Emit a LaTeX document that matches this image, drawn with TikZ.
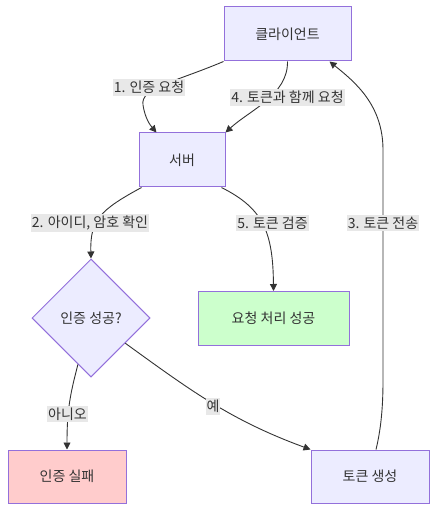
\documentclass[tikz,border=0pt]{standalone}
\usepackage{fontspec}
\setmainfont{Noto Sans CJK KR}
\usetikzlibrary{shapes.geometric,arrows.meta,calc}
\definecolor{boxfill}{HTML}{ECECFF}
\definecolor{boxline}{HTML}{9370DB}
\definecolor{okfill}{HTML}{CCFFCC}
\definecolor{badfill}{HTML}{FFCCCC}
\definecolor{txt}{HTML}{333333}
\definecolor{lblfill}{HTML}{E8E8E8}
\tikzset{
  box/.style={draw=boxline, fill=boxfill, line width=1pt, text=txt, inner sep=0pt, font=\fontsize{14}{16}\selectfont},
  decbox/.style={box, diamond, aspect=1, minimum width=118pt, minimum height=118pt},
  conn/.style={draw=txt, line width=0.9pt, -{Triangle[length=7pt,width=7pt]}},
  lbl/.style={fill=lblfill, text=txt, inner xsep=1pt, inner ysep=2pt, font=\fontsize{14}{16}\selectfont}
}
\begin{document}
\begin{tikzpicture}[x=1pt,y=-1pt]
\useasboundingbox (0,0) rectangle (445,521);
\node[box, minimum width=127pt, minimum height=54pt] (cl) at (287.5,34) {클라이언트};
\node[box, minimum width=86pt, minimum height=54pt] (sv) at (182,160) {서버};
\node[decbox] (dec) at (91,318) {인증 성공?};
\node[box, fill=okfill, minimum width=151pt, minimum height=54pt] (ok) at (273.5,318.5) {요청 처리 성공};
\node[box, fill=badfill, minimum width=118pt, minimum height=53pt] (fail) at (67,476.5) {인증 실패};
\node[box, minimum width=118pt, minimum height=53pt] (tok) at (370,476.5) {토큰 생성};

% edges
\draw[conn] (cl.south west) .. controls (175,82) and (140,88) .. (143,105) .. controls (145,118) and (150,125) .. ([xshift=18pt]sv.north west);
\draw[conn] (cl.south) .. controls (288,95) and (250,110) .. (sv.north east);
\draw[conn] ([xshift=3pt]sv.south west) .. controls (100,210) and (90,220) .. (dec.north);
\draw[conn] ([xshift=-4pt]sv.south east) .. controls (262,208) and (273,230) .. (ok.north);
\draw[conn] ([xshift=6pt]tok.north) .. controls (382,425) and (383,400) .. (383,380) -- (383,150) .. controls (383,105) and (355,82) .. ([xshift=-22pt]cl.south east);
\draw[conn] ($(dec.west)!0.78!(dec.south)$) .. controls (70,395) and (67,410) .. (fail.north);
\draw[conn] ($(dec.south)!0.576!(dec.east)$) .. controls (190,390) and (230,420) .. (tok.north west);

% labels
\node[lbl] (l1) at (149,87.5) {1. 인증 요청};
\node[lbl] (l4) at (287.5,97.5) {4. 토큰과 함께 요청};
\node[lbl] (l2) at (90,223) {2. 아이디, 암호 확인};
\node[lbl] (l5) at (272.5,223) {5. 토큰 검증};
\node[lbl] (l3) at (383,223) {3. 토큰 전송};
\node[lbl] (lno) at (67.5,414) {아니오};
\node[lbl] (lyes) at (213,406.5) {예};
\end{tikzpicture}
\end{document}
